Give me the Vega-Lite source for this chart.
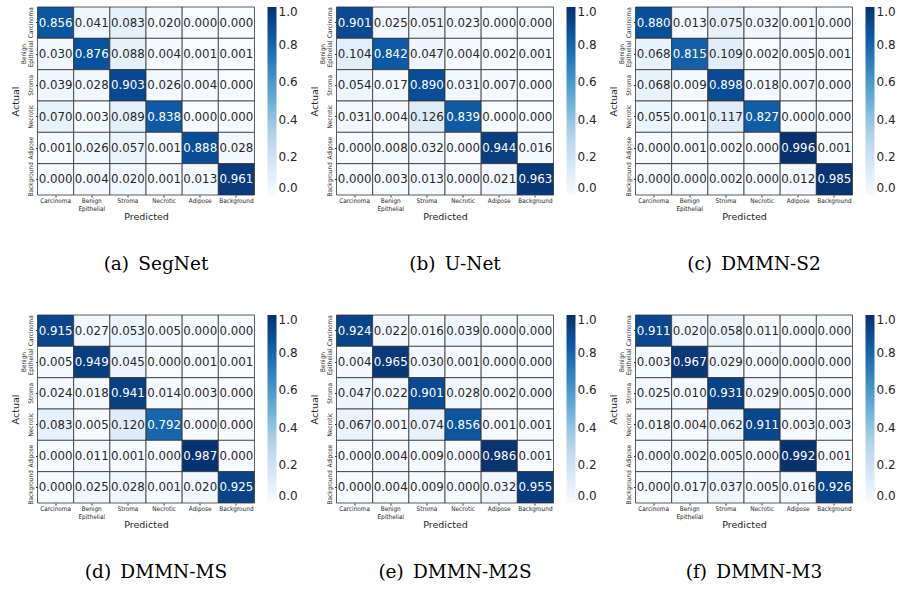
{
  "$schema": "https://vega.github.io/schema/vega-lite/v6.json",
  "padding": {"left": 9.5, "top": 6, "right": 0, "bottom": 0},
  "background": "white",
  "datasets": {
    "segnet": [
      {"actual":"Carcinoma","predicted":"Carcinoma","v":0.856},{"actual":"Carcinoma","predicted":"Benign Epithelial","v":0.041},{"actual":"Carcinoma","predicted":"Stroma","v":0.083},{"actual":"Carcinoma","predicted":"Necrotic","v":0.020},{"actual":"Carcinoma","predicted":"Adipose","v":0.000},{"actual":"Carcinoma","predicted":"Background","v":0.000},
      {"actual":"Benign Epithelial","predicted":"Carcinoma","v":0.030},{"actual":"Benign Epithelial","predicted":"Benign Epithelial","v":0.876},{"actual":"Benign Epithelial","predicted":"Stroma","v":0.088},{"actual":"Benign Epithelial","predicted":"Necrotic","v":0.004},{"actual":"Benign Epithelial","predicted":"Adipose","v":0.001},{"actual":"Benign Epithelial","predicted":"Background","v":0.001},
      {"actual":"Stroma","predicted":"Carcinoma","v":0.039},{"actual":"Stroma","predicted":"Benign Epithelial","v":0.028},{"actual":"Stroma","predicted":"Stroma","v":0.903},{"actual":"Stroma","predicted":"Necrotic","v":0.026},{"actual":"Stroma","predicted":"Adipose","v":0.004},{"actual":"Stroma","predicted":"Background","v":0.000},
      {"actual":"Necrotic","predicted":"Carcinoma","v":0.070},{"actual":"Necrotic","predicted":"Benign Epithelial","v":0.003},{"actual":"Necrotic","predicted":"Stroma","v":0.089},{"actual":"Necrotic","predicted":"Necrotic","v":0.838},{"actual":"Necrotic","predicted":"Adipose","v":0.000},{"actual":"Necrotic","predicted":"Background","v":0.000},
      {"actual":"Adipose","predicted":"Carcinoma","v":0.001},{"actual":"Adipose","predicted":"Benign Epithelial","v":0.026},{"actual":"Adipose","predicted":"Stroma","v":0.057},{"actual":"Adipose","predicted":"Necrotic","v":0.001},{"actual":"Adipose","predicted":"Adipose","v":0.888},{"actual":"Adipose","predicted":"Background","v":0.028},
      {"actual":"Background","predicted":"Carcinoma","v":0.000},{"actual":"Background","predicted":"Benign Epithelial","v":0.004},{"actual":"Background","predicted":"Stroma","v":0.020},{"actual":"Background","predicted":"Necrotic","v":0.001},{"actual":"Background","predicted":"Adipose","v":0.013},{"actual":"Background","predicted":"Background","v":0.961}
    ],
    "unet": [
      {"actual":"Carcinoma","predicted":"Carcinoma","v":0.901},{"actual":"Carcinoma","predicted":"Benign Epithelial","v":0.025},{"actual":"Carcinoma","predicted":"Stroma","v":0.051},{"actual":"Carcinoma","predicted":"Necrotic","v":0.023},{"actual":"Carcinoma","predicted":"Adipose","v":0.000},{"actual":"Carcinoma","predicted":"Background","v":0.000},
      {"actual":"Benign Epithelial","predicted":"Carcinoma","v":0.104},{"actual":"Benign Epithelial","predicted":"Benign Epithelial","v":0.842},{"actual":"Benign Epithelial","predicted":"Stroma","v":0.047},{"actual":"Benign Epithelial","predicted":"Necrotic","v":0.004},{"actual":"Benign Epithelial","predicted":"Adipose","v":0.002},{"actual":"Benign Epithelial","predicted":"Background","v":0.001},
      {"actual":"Stroma","predicted":"Carcinoma","v":0.054},{"actual":"Stroma","predicted":"Benign Epithelial","v":0.017},{"actual":"Stroma","predicted":"Stroma","v":0.890},{"actual":"Stroma","predicted":"Necrotic","v":0.031},{"actual":"Stroma","predicted":"Adipose","v":0.007},{"actual":"Stroma","predicted":"Background","v":0.000},
      {"actual":"Necrotic","predicted":"Carcinoma","v":0.031},{"actual":"Necrotic","predicted":"Benign Epithelial","v":0.004},{"actual":"Necrotic","predicted":"Stroma","v":0.126},{"actual":"Necrotic","predicted":"Necrotic","v":0.839},{"actual":"Necrotic","predicted":"Adipose","v":0.000},{"actual":"Necrotic","predicted":"Background","v":0.000},
      {"actual":"Adipose","predicted":"Carcinoma","v":0.000},{"actual":"Adipose","predicted":"Benign Epithelial","v":0.008},{"actual":"Adipose","predicted":"Stroma","v":0.032},{"actual":"Adipose","predicted":"Necrotic","v":0.000},{"actual":"Adipose","predicted":"Adipose","v":0.944},{"actual":"Adipose","predicted":"Background","v":0.016},
      {"actual":"Background","predicted":"Carcinoma","v":0.000},{"actual":"Background","predicted":"Benign Epithelial","v":0.003},{"actual":"Background","predicted":"Stroma","v":0.013},{"actual":"Background","predicted":"Necrotic","v":0.000},{"actual":"Background","predicted":"Adipose","v":0.021},{"actual":"Background","predicted":"Background","v":0.963}
    ],
    "s2": [
      {"actual":"Carcinoma","predicted":"Carcinoma","v":0.880},{"actual":"Carcinoma","predicted":"Benign Epithelial","v":0.013},{"actual":"Carcinoma","predicted":"Stroma","v":0.075},{"actual":"Carcinoma","predicted":"Necrotic","v":0.032},{"actual":"Carcinoma","predicted":"Adipose","v":0.001},{"actual":"Carcinoma","predicted":"Background","v":0.000},
      {"actual":"Benign Epithelial","predicted":"Carcinoma","v":0.068},{"actual":"Benign Epithelial","predicted":"Benign Epithelial","v":0.815},{"actual":"Benign Epithelial","predicted":"Stroma","v":0.109},{"actual":"Benign Epithelial","predicted":"Necrotic","v":0.002},{"actual":"Benign Epithelial","predicted":"Adipose","v":0.005},{"actual":"Benign Epithelial","predicted":"Background","v":0.001},
      {"actual":"Stroma","predicted":"Carcinoma","v":0.068},{"actual":"Stroma","predicted":"Benign Epithelial","v":0.009},{"actual":"Stroma","predicted":"Stroma","v":0.898},{"actual":"Stroma","predicted":"Necrotic","v":0.018},{"actual":"Stroma","predicted":"Adipose","v":0.007},{"actual":"Stroma","predicted":"Background","v":0.000},
      {"actual":"Necrotic","predicted":"Carcinoma","v":0.055},{"actual":"Necrotic","predicted":"Benign Epithelial","v":0.001},{"actual":"Necrotic","predicted":"Stroma","v":0.117},{"actual":"Necrotic","predicted":"Necrotic","v":0.827},{"actual":"Necrotic","predicted":"Adipose","v":0.000},{"actual":"Necrotic","predicted":"Background","v":0.000},
      {"actual":"Adipose","predicted":"Carcinoma","v":0.000},{"actual":"Adipose","predicted":"Benign Epithelial","v":0.001},{"actual":"Adipose","predicted":"Stroma","v":0.002},{"actual":"Adipose","predicted":"Necrotic","v":0.000},{"actual":"Adipose","predicted":"Adipose","v":0.996},{"actual":"Adipose","predicted":"Background","v":0.001},
      {"actual":"Background","predicted":"Carcinoma","v":0.000},{"actual":"Background","predicted":"Benign Epithelial","v":0.000},{"actual":"Background","predicted":"Stroma","v":0.002},{"actual":"Background","predicted":"Necrotic","v":0.000},{"actual":"Background","predicted":"Adipose","v":0.012},{"actual":"Background","predicted":"Background","v":0.985}
    ],
    "ms": [
      {"actual":"Carcinoma","predicted":"Carcinoma","v":0.915},{"actual":"Carcinoma","predicted":"Benign Epithelial","v":0.027},{"actual":"Carcinoma","predicted":"Stroma","v":0.053},{"actual":"Carcinoma","predicted":"Necrotic","v":0.005},{"actual":"Carcinoma","predicted":"Adipose","v":0.000},{"actual":"Carcinoma","predicted":"Background","v":0.000},
      {"actual":"Benign Epithelial","predicted":"Carcinoma","v":0.005},{"actual":"Benign Epithelial","predicted":"Benign Epithelial","v":0.949},{"actual":"Benign Epithelial","predicted":"Stroma","v":0.045},{"actual":"Benign Epithelial","predicted":"Necrotic","v":0.000},{"actual":"Benign Epithelial","predicted":"Adipose","v":0.001},{"actual":"Benign Epithelial","predicted":"Background","v":0.001},
      {"actual":"Stroma","predicted":"Carcinoma","v":0.024},{"actual":"Stroma","predicted":"Benign Epithelial","v":0.018},{"actual":"Stroma","predicted":"Stroma","v":0.941},{"actual":"Stroma","predicted":"Necrotic","v":0.014},{"actual":"Stroma","predicted":"Adipose","v":0.003},{"actual":"Stroma","predicted":"Background","v":0.000},
      {"actual":"Necrotic","predicted":"Carcinoma","v":0.083},{"actual":"Necrotic","predicted":"Benign Epithelial","v":0.005},{"actual":"Necrotic","predicted":"Stroma","v":0.120},{"actual":"Necrotic","predicted":"Necrotic","v":0.792},{"actual":"Necrotic","predicted":"Adipose","v":0.000},{"actual":"Necrotic","predicted":"Background","v":0.000},
      {"actual":"Adipose","predicted":"Carcinoma","v":0.000},{"actual":"Adipose","predicted":"Benign Epithelial","v":0.011},{"actual":"Adipose","predicted":"Stroma","v":0.001},{"actual":"Adipose","predicted":"Necrotic","v":0.000},{"actual":"Adipose","predicted":"Adipose","v":0.987},{"actual":"Adipose","predicted":"Background","v":0.000},
      {"actual":"Background","predicted":"Carcinoma","v":0.000},{"actual":"Background","predicted":"Benign Epithelial","v":0.025},{"actual":"Background","predicted":"Stroma","v":0.028},{"actual":"Background","predicted":"Necrotic","v":0.001},{"actual":"Background","predicted":"Adipose","v":0.020},{"actual":"Background","predicted":"Background","v":0.925}
    ],
    "m2s": [
      {"actual":"Carcinoma","predicted":"Carcinoma","v":0.924},{"actual":"Carcinoma","predicted":"Benign Epithelial","v":0.022},{"actual":"Carcinoma","predicted":"Stroma","v":0.016},{"actual":"Carcinoma","predicted":"Necrotic","v":0.039},{"actual":"Carcinoma","predicted":"Adipose","v":0.000},{"actual":"Carcinoma","predicted":"Background","v":0.000},
      {"actual":"Benign Epithelial","predicted":"Carcinoma","v":0.004},{"actual":"Benign Epithelial","predicted":"Benign Epithelial","v":0.965},{"actual":"Benign Epithelial","predicted":"Stroma","v":0.030},{"actual":"Benign Epithelial","predicted":"Necrotic","v":0.001},{"actual":"Benign Epithelial","predicted":"Adipose","v":0.000},{"actual":"Benign Epithelial","predicted":"Background","v":0.000},
      {"actual":"Stroma","predicted":"Carcinoma","v":0.047},{"actual":"Stroma","predicted":"Benign Epithelial","v":0.022},{"actual":"Stroma","predicted":"Stroma","v":0.901},{"actual":"Stroma","predicted":"Necrotic","v":0.028},{"actual":"Stroma","predicted":"Adipose","v":0.002},{"actual":"Stroma","predicted":"Background","v":0.000},
      {"actual":"Necrotic","predicted":"Carcinoma","v":0.067},{"actual":"Necrotic","predicted":"Benign Epithelial","v":0.001},{"actual":"Necrotic","predicted":"Stroma","v":0.074},{"actual":"Necrotic","predicted":"Necrotic","v":0.856},{"actual":"Necrotic","predicted":"Adipose","v":0.001},{"actual":"Necrotic","predicted":"Background","v":0.001},
      {"actual":"Adipose","predicted":"Carcinoma","v":0.000},{"actual":"Adipose","predicted":"Benign Epithelial","v":0.004},{"actual":"Adipose","predicted":"Stroma","v":0.009},{"actual":"Adipose","predicted":"Necrotic","v":0.000},{"actual":"Adipose","predicted":"Adipose","v":0.986},{"actual":"Adipose","predicted":"Background","v":0.001},
      {"actual":"Background","predicted":"Carcinoma","v":0.000},{"actual":"Background","predicted":"Benign Epithelial","v":0.004},{"actual":"Background","predicted":"Stroma","v":0.009},{"actual":"Background","predicted":"Necrotic","v":0.000},{"actual":"Background","predicted":"Adipose","v":0.032},{"actual":"Background","predicted":"Background","v":0.955}
    ],
    "m3": [
      {"actual":"Carcinoma","predicted":"Carcinoma","v":0.911},{"actual":"Carcinoma","predicted":"Benign Epithelial","v":0.020},{"actual":"Carcinoma","predicted":"Stroma","v":0.058},{"actual":"Carcinoma","predicted":"Necrotic","v":0.011},{"actual":"Carcinoma","predicted":"Adipose","v":0.000},{"actual":"Carcinoma","predicted":"Background","v":0.000},
      {"actual":"Benign Epithelial","predicted":"Carcinoma","v":0.003},{"actual":"Benign Epithelial","predicted":"Benign Epithelial","v":0.967},{"actual":"Benign Epithelial","predicted":"Stroma","v":0.029},{"actual":"Benign Epithelial","predicted":"Necrotic","v":0.000},{"actual":"Benign Epithelial","predicted":"Adipose","v":0.000},{"actual":"Benign Epithelial","predicted":"Background","v":0.000},
      {"actual":"Stroma","predicted":"Carcinoma","v":0.025},{"actual":"Stroma","predicted":"Benign Epithelial","v":0.010},{"actual":"Stroma","predicted":"Stroma","v":0.931},{"actual":"Stroma","predicted":"Necrotic","v":0.029},{"actual":"Stroma","predicted":"Adipose","v":0.005},{"actual":"Stroma","predicted":"Background","v":0.000},
      {"actual":"Necrotic","predicted":"Carcinoma","v":0.018},{"actual":"Necrotic","predicted":"Benign Epithelial","v":0.004},{"actual":"Necrotic","predicted":"Stroma","v":0.062},{"actual":"Necrotic","predicted":"Necrotic","v":0.911},{"actual":"Necrotic","predicted":"Adipose","v":0.003},{"actual":"Necrotic","predicted":"Background","v":0.003},
      {"actual":"Adipose","predicted":"Carcinoma","v":0.000},{"actual":"Adipose","predicted":"Benign Epithelial","v":0.002},{"actual":"Adipose","predicted":"Stroma","v":0.005},{"actual":"Adipose","predicted":"Necrotic","v":0.000},{"actual":"Adipose","predicted":"Adipose","v":0.992},{"actual":"Adipose","predicted":"Background","v":0.001},
      {"actual":"Background","predicted":"Carcinoma","v":0.000},{"actual":"Background","predicted":"Benign Epithelial","v":0.017},{"actual":"Background","predicted":"Stroma","v":0.037},{"actual":"Background","predicted":"Necrotic","v":0.005},{"actual":"Background","predicted":"Adipose","v":0.016},{"actual":"Background","predicted":"Background","v":0.926}
    ]
  },
  "columns": 3,
  "spacing": {"column": 82, "row": 120},
  "bounds": "flush",
  "resolve": {"scale": {"color": "independent"}, "legend": {"color": "independent"}},
  "concat": [
    {"data": {"name": "segnet"}, "title": {"text": "(a)\u2002SegNet"}, "width": 217, "height": 188,
     "encoding": {
       "x": {"field": "predicted", "type": "nominal", "sort": ["Carcinoma","Benign Epithelial","Stroma","Necrotic","Adipose","Background"], "title": "Predicted"},
       "y": {"field": "actual", "type": "nominal", "sort": ["Carcinoma","Benign Epithelial","Stroma","Necrotic","Adipose","Background"], "title": "Actual", "axis": {"labelAngle": 270, "labelAlign": "center", "labelBaseline": "bottom", "labelPadding": {"condition": {"test": "datum.value == 'Benign Epithelial'", "value": 9.5}, "value": 2}}}
     },
     "layer": [
       {"mark": {"type": "rect", "stroke": "#333333", "strokeWidth": 0.8}, "encoding": {"color": {"field": "v", "type": "quantitative", "scale": {"domain": [0,0.125,0.25,0.375,0.5,0.625,0.75,0.875,1], "range": ["#f7fbff","#deebf7","#c6dbef","#9ecae1","#6baed6","#4292c6","#2171b5","#08519c","#08306b"]}, "legend": {"values": [0,0.2,0.4,0.6,0.8,1], "format": ".1f", "title": null}}}},
       {"mark": {"type": "text"}, "encoding": {"text": {"field": "v", "type": "quantitative", "format": ".3f"}, "color": {"condition": {"test": "datum.v > 0.5", "value": "white"}, "value": "#262626"}}}
     ]},
    {"data": {"name": "unet"}, "title": {"text": "(b)\u2002U-Net"}, "width": 217, "height": 188,
     "encoding": {
       "x": {"field": "predicted", "type": "nominal", "sort": ["Carcinoma","Benign Epithelial","Stroma","Necrotic","Adipose","Background"], "title": "Predicted"},
       "y": {"field": "actual", "type": "nominal", "sort": ["Carcinoma","Benign Epithelial","Stroma","Necrotic","Adipose","Background"], "title": "Actual", "axis": {"labelAngle": 270, "labelAlign": "center", "labelBaseline": "bottom", "labelPadding": {"condition": {"test": "datum.value == 'Benign Epithelial'", "value": 9.5}, "value": 2}}}
     },
     "layer": [
       {"mark": {"type": "rect", "stroke": "#333333", "strokeWidth": 0.8}, "encoding": {"color": {"field": "v", "type": "quantitative", "scale": {"domain": [0,0.125,0.25,0.375,0.5,0.625,0.75,0.875,1], "range": ["#f7fbff","#deebf7","#c6dbef","#9ecae1","#6baed6","#4292c6","#2171b5","#08519c","#08306b"]}, "legend": {"values": [0,0.2,0.4,0.6,0.8,1], "format": ".1f", "title": null}}}},
       {"mark": {"type": "text"}, "encoding": {"text": {"field": "v", "type": "quantitative", "format": ".3f"}, "color": {"condition": {"test": "datum.v > 0.5", "value": "white"}, "value": "#262626"}}}
     ]},
    {"data": {"name": "s2"}, "title": {"text": "(c)\u2002DMMN-S2"}, "width": 217, "height": 188,
     "encoding": {
       "x": {"field": "predicted", "type": "nominal", "sort": ["Carcinoma","Benign Epithelial","Stroma","Necrotic","Adipose","Background"], "title": "Predicted"},
       "y": {"field": "actual", "type": "nominal", "sort": ["Carcinoma","Benign Epithelial","Stroma","Necrotic","Adipose","Background"], "title": "Actual", "axis": {"labelAngle": 270, "labelAlign": "center", "labelBaseline": "bottom", "labelPadding": {"condition": {"test": "datum.value == 'Benign Epithelial'", "value": 9.5}, "value": 2}}}
     },
     "layer": [
       {"mark": {"type": "rect", "stroke": "#333333", "strokeWidth": 0.8}, "encoding": {"color": {"field": "v", "type": "quantitative", "scale": {"domain": [0,0.125,0.25,0.375,0.5,0.625,0.75,0.875,1], "range": ["#f7fbff","#deebf7","#c6dbef","#9ecae1","#6baed6","#4292c6","#2171b5","#08519c","#08306b"]}, "legend": {"values": [0,0.2,0.4,0.6,0.8,1], "format": ".1f", "title": null}}}},
       {"mark": {"type": "text"}, "encoding": {"text": {"field": "v", "type": "quantitative", "format": ".3f"}, "color": {"condition": {"test": "datum.v > 0.5", "value": "white"}, "value": "#262626"}}}
     ]},
    {"data": {"name": "ms"}, "title": {"text": "(d)\u2002DMMN-MS"}, "width": 217, "height": 188,
     "encoding": {
       "x": {"field": "predicted", "type": "nominal", "sort": ["Carcinoma","Benign Epithelial","Stroma","Necrotic","Adipose","Background"], "title": "Predicted"},
       "y": {"field": "actual", "type": "nominal", "sort": ["Carcinoma","Benign Epithelial","Stroma","Necrotic","Adipose","Background"], "title": "Actual", "axis": {"labelAngle": 270, "labelAlign": "center", "labelBaseline": "bottom", "labelPadding": {"condition": {"test": "datum.value == 'Benign Epithelial'", "value": 9.5}, "value": 2}}}
     },
     "layer": [
       {"mark": {"type": "rect", "stroke": "#333333", "strokeWidth": 0.8}, "encoding": {"color": {"field": "v", "type": "quantitative", "scale": {"domain": [0,0.125,0.25,0.375,0.5,0.625,0.75,0.875,1], "range": ["#f7fbff","#deebf7","#c6dbef","#9ecae1","#6baed6","#4292c6","#2171b5","#08519c","#08306b"]}, "legend": {"values": [0,0.2,0.4,0.6,0.8,1], "format": ".1f", "title": null}}}},
       {"mark": {"type": "text"}, "encoding": {"text": {"field": "v", "type": "quantitative", "format": ".3f"}, "color": {"condition": {"test": "datum.v > 0.5", "value": "white"}, "value": "#262626"}}}
     ]},
    {"data": {"name": "m2s"}, "title": {"text": "(e)\u2002DMMN-M2S"}, "width": 217, "height": 188,
     "encoding": {
       "x": {"field": "predicted", "type": "nominal", "sort": ["Carcinoma","Benign Epithelial","Stroma","Necrotic","Adipose","Background"], "title": "Predicted"},
       "y": {"field": "actual", "type": "nominal", "sort": ["Carcinoma","Benign Epithelial","Stroma","Necrotic","Adipose","Background"], "title": "Actual", "axis": {"labelAngle": 270, "labelAlign": "center", "labelBaseline": "bottom", "labelPadding": {"condition": {"test": "datum.value == 'Benign Epithelial'", "value": 9.5}, "value": 2}}}
     },
     "layer": [
       {"mark": {"type": "rect", "stroke": "#333333", "strokeWidth": 0.8}, "encoding": {"color": {"field": "v", "type": "quantitative", "scale": {"domain": [0,0.125,0.25,0.375,0.5,0.625,0.75,0.875,1], "range": ["#f7fbff","#deebf7","#c6dbef","#9ecae1","#6baed6","#4292c6","#2171b5","#08519c","#08306b"]}, "legend": {"values": [0,0.2,0.4,0.6,0.8,1], "format": ".1f", "title": null}}}},
       {"mark": {"type": "text"}, "encoding": {"text": {"field": "v", "type": "quantitative", "format": ".3f"}, "color": {"condition": {"test": "datum.v > 0.5", "value": "white"}, "value": "#262626"}}}
     ]},
    {"data": {"name": "m3"}, "title": {"text": "(f)\u2002DMMN-M3"}, "width": 217, "height": 188,
     "encoding": {
       "x": {"field": "predicted", "type": "nominal", "sort": ["Carcinoma","Benign Epithelial","Stroma","Necrotic","Adipose","Background"], "title": "Predicted"},
       "y": {"field": "actual", "type": "nominal", "sort": ["Carcinoma","Benign Epithelial","Stroma","Necrotic","Adipose","Background"], "title": "Actual", "axis": {"labelAngle": 270, "labelAlign": "center", "labelBaseline": "bottom", "labelPadding": {"condition": {"test": "datum.value == 'Benign Epithelial'", "value": 9.5}, "value": 2}}}
     },
     "layer": [
       {"mark": {"type": "rect", "stroke": "#333333", "strokeWidth": 0.8}, "encoding": {"color": {"field": "v", "type": "quantitative", "scale": {"domain": [0,0.125,0.25,0.375,0.5,0.625,0.75,0.875,1], "range": ["#f7fbff","#deebf7","#c6dbef","#9ecae1","#6baed6","#4292c6","#2171b5","#08519c","#08306b"]}, "legend": {"values": [0,0.2,0.4,0.6,0.8,1], "format": ".1f", "title": null}}}},
       {"mark": {"type": "text"}, "encoding": {"text": {"field": "v", "type": "quantitative", "format": ".3f"}, "color": {"condition": {"test": "datum.v > 0.5", "value": "white"}, "value": "#262626"}}}
     ]}
  ],
  "config": {
    "view": {"stroke": null},
    "text": {"font": "DejaVu Sans", "fontSize": 11.8},
    "axis": {
      "domain": false, "ticks": true, "tickSize": 2, "tickColor": "#333333",
      "labelFont": "DejaVu Sans Condensed", "labelFontSize": 6.4, "labelColor": "#262626",
      "titleFont": "DejaVu Sans", "titleFontSize": 9.5, "titleFontWeight": "normal", "titleColor": "#262626",
      "labelExpr": "datum.value == 'Benign Epithelial' ? ['Benign', 'Epithelial'] : datum.label",
      "labelLineHeight": 7.5
    },
    "axisX": {"labelAngle": 0, "labelPadding": 0.5, "labelBaseline": "top", "titlePadding": 0},
    "axisY": {"titlePadding": 0},
    "legend": {
      "gradientLength": 188, "gradientThickness": 9, "gradientStrokeWidth": 0, "offset": 13, "padding": 0,
      "labelFont": "DejaVu Sans", "labelFontSize": 12, "labelColor": "#262626", "labelOffset": 5
    },
    "title": {"orient": "bottom", "font": "DejaVu Serif", "fontSize": 18.5, "fontWeight": "normal", "color": "#000000", "offset": 34, "anchor": "middle", "dx": 10}
  }
}
